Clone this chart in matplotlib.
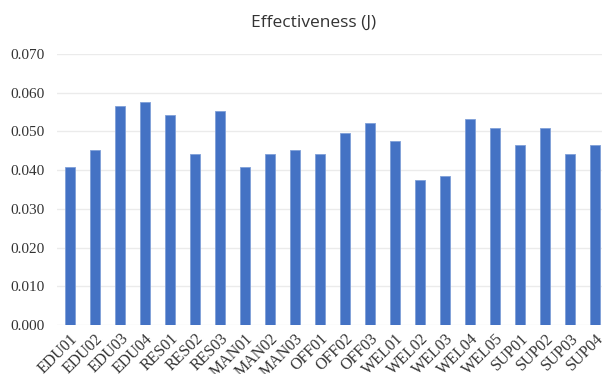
import matplotlib.pyplot as plt
import numpy as np

codes = ['EDU01', 'EDU02', 'EDU03', 'EDU04', 'RES01', 'RES02', 'RES03',
         'MAN01', 'MAN02', 'MAN03', 'OFF01', 'OFF02', 'OFF03',
         'WEL01', 'WEL02', 'WEL03', 'WEL04', 'WEL05',
         'SUP01', 'SUP02', 'SUP03', 'SUP04']
effectiveness = [0.0407, 0.0452, 0.0565, 0.0577, 0.0543, 0.0441, 0.0554,
                 0.0407, 0.0441, 0.0453, 0.0441, 0.0497, 0.0521,
                 0.0476, 0.0374, 0.0384, 0.0531, 0.0508,
                 0.0464, 0.0509, 0.0441, 0.0465]
yticks = [0.0, 0.01, 0.02, 0.03, 0.04, 0.05, 0.06, 0.07]

plt.rcParams['font.family'] = ['Liberation Serif']

fig = plt.figure(figsize=(6.02, 3.74), dpi=100)
ax = fig.add_axes([57 / 602, 1 - 325 / 374, 545 / 602, (325 - 54) / 374])

x = np.arange(len(codes))
ax.bar(x, effectiveness, width=0.4, color='#4472C4', edgecolor='#7f9fd8',
       linewidth=0.6, zorder=3)

ax.set_ylim(0, 0.07)
ax.set_xlim(-0.52, 21.28)
ax.set_yticks(yticks)
ax.set_yticklabels(['%.3f' % v for v in yticks])
ax.set_xticks(x)
ax.set_xticklabels(codes, rotation=45, ha='right', va='top',
                   rotation_mode='anchor')
ax.tick_params(axis='y', length=0, pad=9, labelsize=11, labelcolor='#333333')
ax.tick_params(axis='x', length=0, pad=4, labelsize=11.5, labelcolor='#333333')
for lab in ax.get_xticklabels() + ax.get_yticklabels():
    lab.set_family('Liberation Serif')
ax.grid(axis='y', color='#ebebeb', linewidth=1, zorder=0)
for s in ax.spines.values():
    s.set_visible(False)

fig.text(313.5 / 602, 1 - 23 / 374, 'Effectiveness (J)', ha='center',
         va='center', fontsize=12.5, family='Open Sans', color='#333333')

fig.savefig('out.png', dpi=100)
